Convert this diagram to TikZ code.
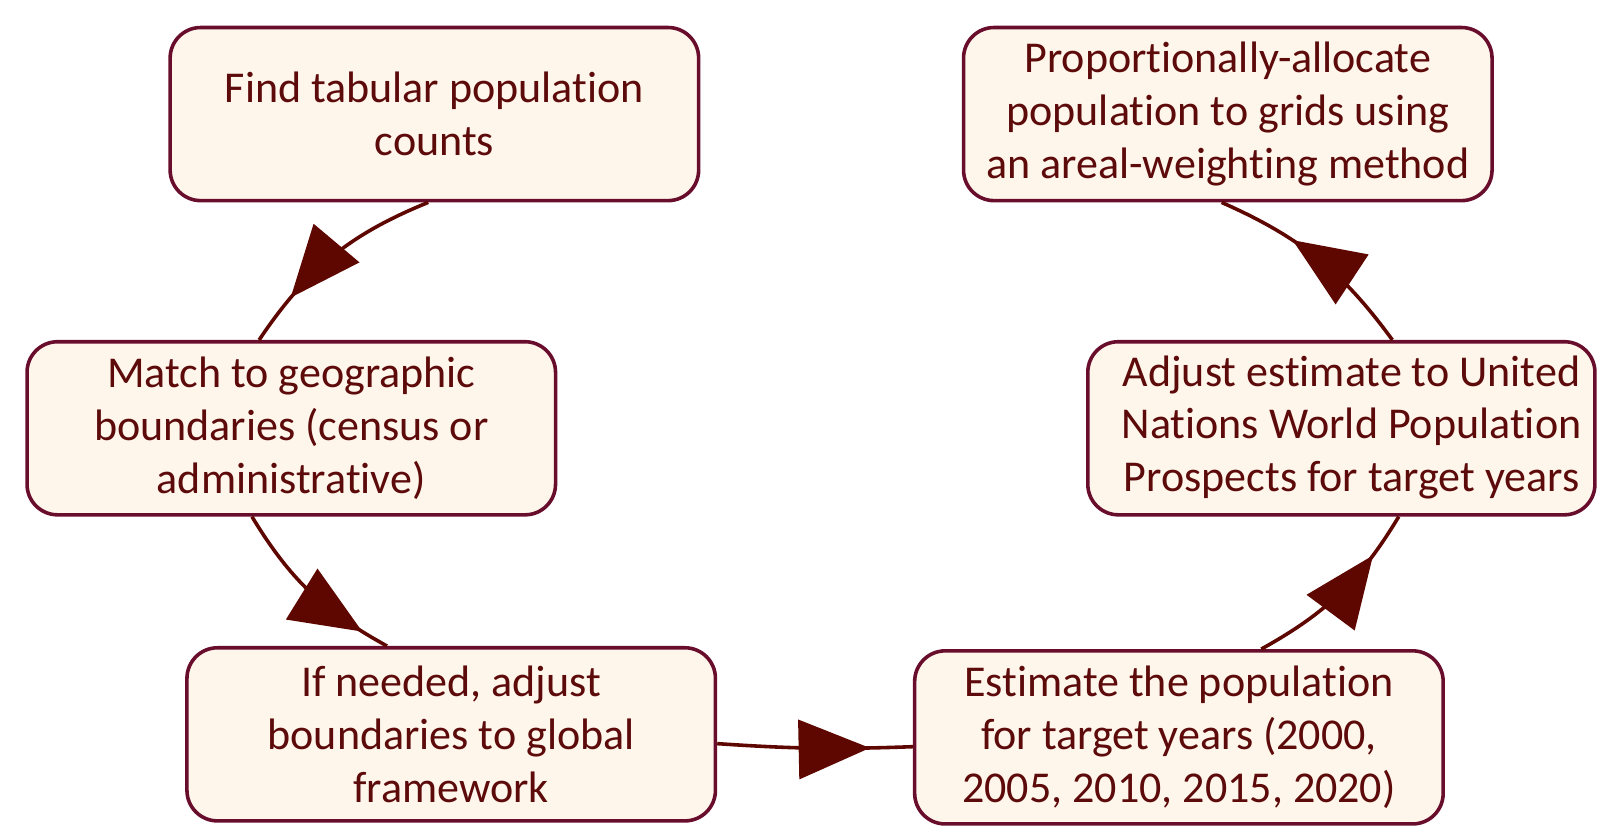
\documentclass[tikz,border=0pt]{standalone}
\usepackage{fontspec}
\setmainfont{Carlito}[Ligatures=NoCommon]
\usetikzlibrary{arrows.meta,decorations.markings}

\definecolor{boxline}{RGB}{104,14,44}
\definecolor{boxfill}{RGB}{254,245,235}
\definecolor{inkred}{RGB}{92,10,10}
\definecolor{tipred}{RGB}{94,6,0}

\tikzset{
  stage/.style={draw=boxline, fill=boxfill, line width=2pt,
    rounded corners=0.6cm, minimum width=10.38cm, minimum height=3.4cm,
    align=center, text=inkred, font=\fontsize{24.6pt}{29.5pt}\selectfont},
  flow/.style={draw=tipred, line width=2pt, postaction={decorate},
    decoration={markings,
      mark=at position #1 with {\arrow{Triangle[length=1.4cm,width=1.16cm]}}}},
}

\begin{document}
\begin{tikzpicture}[x=0.02cm,y=0.02cm]
			\useasboundingbox (0,0) rectangle (1568,812);

			% steps, clockwise round the cycle
			\node[stage] (find)   at (426.5,700)  {Find tabular population\\counts};
			\node[stage] (match)  at (286,391.5)  {Match to geographic\\boundaries (census or\\administrative)};
			\node[stage] (adjb)   at (443,91)     {If needed, adjust\\boundaries to global\\framework};
			\node[stage] (est)    at (1157.5,88)  {Estimate the population\\for target years (2000,\\2005, 2010, 2015, 2020)};
			% text sits a little right of centre in this one
			\node[stage, minimum width=9.96cm] (unwpp) at (1317,391.5)
				{\hspace{0.4cm}\begin{tabular}{@{}c@{}}Adjust estimate to United\\Nations World Population\\Prospects for target years\end{tabular}};
			\node[stage] (alloc)  at (1205.5,700) {Proportionally-allocate\\population to grids using\\an areal-weighting method};

			\draw[flow=-29.5pt] (find.-94)  to[bend right=17] (match.110);
			\draw[flow=-16pt]   (match.-114) to[bend right=15] (adjb.126);
			\draw[flow=-24pt]   (adjb.-2)   to[bend right=3]  (est.182);
			\draw[flow=-26pt]   (est.47)    to[bend right=15] (unwpp.-57);
			\draw[flow=-45pt]   (unwpp.60)  to[bend right=15] (alloc.-94);
		\end{tikzpicture}
\end{document}
